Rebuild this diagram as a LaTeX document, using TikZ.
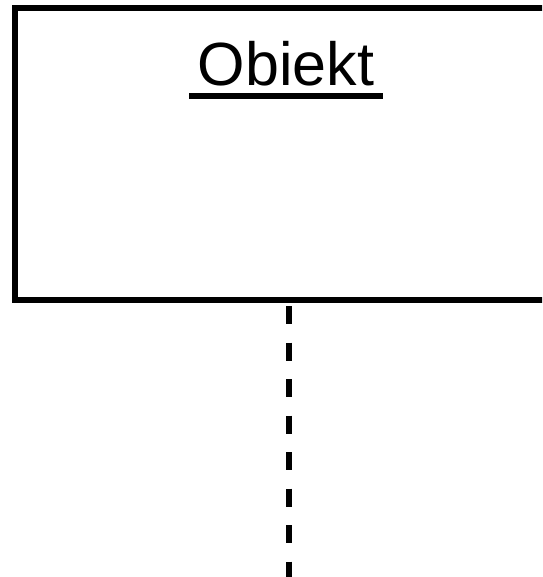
\documentclass[tikz,border=0pt]{standalone}
\usepackage{fontspec}
\setmainfont{Liberation Sans}
\usepackage{tikz}
\usetikzlibrary{positioning,calc}

\begin{document}
\begin{tikzpicture}[x=1pt,y=-1pt,line width=6pt,
  objbox/.style={draw,rectangle,inner sep=0pt,minimum width=548pt,minimum height=292pt},
  objname/.style={inner xsep=5.5pt,inner ysep=0pt,font=\fontsize{61}{61}\selectfont},
  lifeline/.style={dash pattern=on 18pt off 18.5pt,shorten <=3pt}]
\useasboundingbox (0,0) rectangle (542,577);
\clip (0,0) rectangle (542,577);
\node[objbox] (box) at (289,154) {};
\node[objname,anchor=base] (name) at (286,86) {Obiekt};
\draw ([yshift=-10pt]name.base west) -- ([yshift=-10pt]name.base east);
\coordinate (end) at (289,590);
\draw[lifeline] (box.south) -- (end);
\end{tikzpicture}
\end{document}
